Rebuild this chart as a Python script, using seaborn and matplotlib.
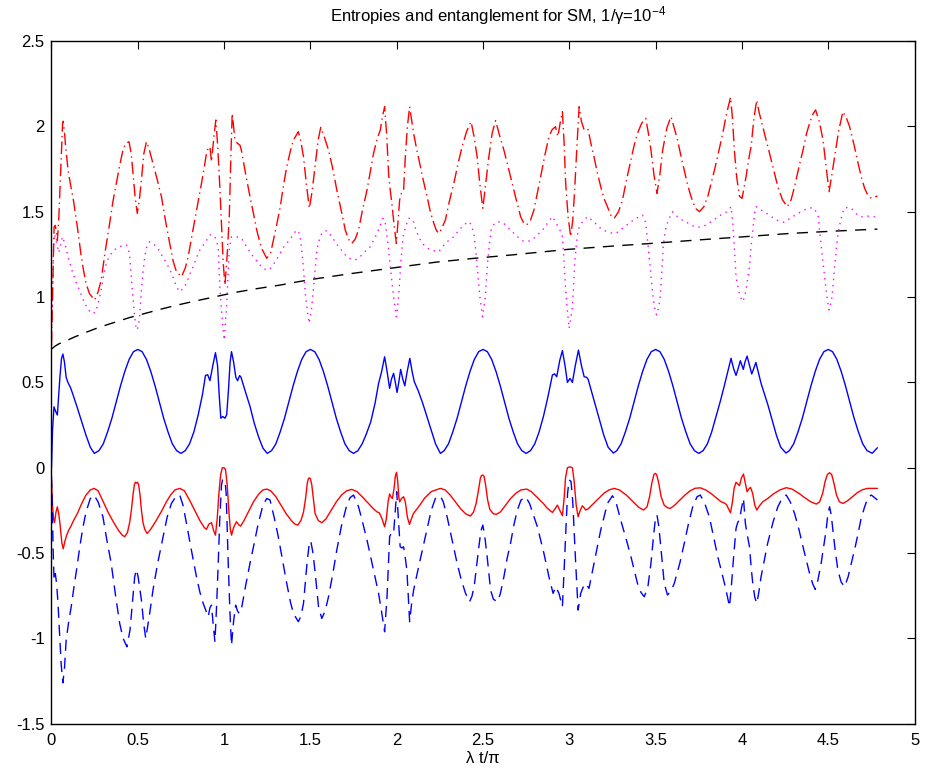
import matplotlib
matplotlib.use("Agg")
import numpy as np
import pandas as pd
import seaborn as sns
import matplotlib.pyplot as plt

# ---------------- data ----------------
# blue solid
bs_x = [0, 0.006, 0.0145, 0.024, 0.034, 0.049, 0.058, 0.066, 0.075, 0.085, 0.095, 0.11, 0.124, 0.15, 0.175, 0.2, 0.225, 0.248,
        0.275, 0.3, 0.325, 0.35, 0.375, 0.4, 0.425, 0.45, 0.475, 0.5, 0.525, 0.55, 0.575, 0.6, 0.625, 0.65, 0.675, 0.7, 0.725, 0.75,
        0.775, 0.8, 0.825, 0.85, 0.875, 0.892, 0.905, 0.918, 0.935, 0.95, 0.962, 0.972, 0.981, 0.993, 1.005, 1.015, 1.025, 1.035, 1.043,
        1.055, 1.068, 1.078, 1.09, 1.098, 1.125, 1.15, 1.175, 1.2, 1.225, 1.25,
        1.275, 1.3, 1.325, 1.35, 1.375, 1.4, 1.425, 1.45, 1.475, 1.5, 1.525, 1.55, 1.575, 1.6, 1.625, 1.65, 1.675, 1.7, 1.725, 1.75,
        1.775, 1.8, 1.825, 1.85, 1.875, 1.895, 1.912, 1.93, 1.945, 1.959, 1.97, 1.982, 1.992, 2.002, 2.012, 2.023, 2.035, 2.047, 2.06,
        2.076, 2.09, 2.102, 2.125, 2.15, 2.175, 2.2, 2.225, 2.253,
        2.275, 2.3, 2.325, 2.35, 2.375, 2.4, 2.425, 2.45, 2.475, 2.5, 2.525, 2.55, 2.575, 2.6, 2.625, 2.65, 2.675, 2.7, 2.725, 2.75,
        2.775, 2.8, 2.825, 2.85, 2.875, 2.902, 2.915, 2.927, 2.945, 2.96, 2.975, 2.989, 3.004, 3.018, 3.035, 3.053, 3.07, 3.086, 3.1,
        3.109, 3.125, 3.15, 3.175, 3.2, 3.225, 3.255,
        3.275, 3.3, 3.325, 3.35, 3.375, 3.4, 3.425, 3.45, 3.475, 3.5, 3.525, 3.55, 3.575, 3.6, 3.625, 3.65, 3.675, 3.7, 3.725, 3.75,
        3.775, 3.8, 3.825, 3.85, 3.875, 3.899, 3.915, 3.937, 3.952, 3.966, 3.978, 3.991, 4.0, 4.008, 4.018, 4.03, 4.044, 4.057, 4.068,
        4.081, 4.095, 4.111, 4.125, 4.15, 4.175, 4.2, 4.225, 4.255,
        4.275, 4.3, 4.325, 4.35, 4.375, 4.4, 4.425, 4.45, 4.475, 4.5, 4.525, 4.55, 4.575, 4.6, 4.625, 4.65, 4.675, 4.7, 4.725, 4.755, 4.785]
bs_y = [0, 0.22, 0.357, 0.33, 0.309, 0.533, 0.64, 0.666, 0.62, 0.53, 0.50, 0.47, 0.43, 0.35, 0.27, 0.19, 0.12, 0.084,
        0.10, 0.14, 0.21, 0.29, 0.385, 0.48, 0.565, 0.635, 0.68, 0.693, 0.68, 0.635, 0.565, 0.48, 0.385, 0.29, 0.21, 0.14, 0.10, 0.084,
        0.10, 0.14, 0.21, 0.31, 0.43, 0.54, 0.545, 0.51, 0.60, 0.674, 0.60, 0.42, 0.29, 0.30, 0.29, 0.31, 0.45, 0.62, 0.68,
        0.62, 0.53, 0.51, 0.54, 0.53, 0.44, 0.36, 0.26, 0.18, 0.115, 0.084,
        0.10, 0.14, 0.21, 0.29, 0.385, 0.48, 0.565, 0.635, 0.68, 0.693, 0.68, 0.635, 0.565, 0.48, 0.385, 0.29, 0.21, 0.14, 0.10, 0.084,
        0.10, 0.14, 0.20, 0.27, 0.38, 0.494, 0.56, 0.65, 0.56, 0.465, 0.52, 0.553, 0.50, 0.441, 0.50, 0.576, 0.52, 0.48, 0.56,
        0.641, 0.56, 0.504, 0.45, 0.38, 0.30, 0.22, 0.14, 0.084,
        0.10, 0.14, 0.21, 0.29, 0.385, 0.48, 0.565, 0.635, 0.68, 0.693, 0.68, 0.635, 0.565, 0.48, 0.385, 0.29, 0.21, 0.14, 0.10, 0.084,
        0.10, 0.14, 0.21, 0.30, 0.41, 0.543, 0.55, 0.533, 0.63, 0.686, 0.60, 0.50, 0.523, 0.50, 0.60, 0.689, 0.60, 0.533, 0.53,
        0.518, 0.46, 0.37, 0.28, 0.19, 0.12, 0.086,
        0.10, 0.14, 0.21, 0.29, 0.385, 0.48, 0.565, 0.635, 0.68, 0.693, 0.68, 0.635, 0.565, 0.48, 0.385, 0.29, 0.21, 0.14, 0.10, 0.084,
        0.10, 0.14, 0.21, 0.30, 0.39, 0.484, 0.55, 0.641, 0.58, 0.541, 0.58, 0.627, 0.60, 0.576, 0.62, 0.654, 0.60, 0.549, 0.58,
        0.617, 0.56, 0.494, 0.45, 0.37, 0.28, 0.19, 0.12, 0.086,
        0.10, 0.14, 0.21, 0.29, 0.385, 0.48, 0.565, 0.635, 0.68, 0.693, 0.68, 0.635, 0.565, 0.48, 0.385, 0.29, 0.21, 0.14, 0.10, 0.085, 0.117]

# red solid
rs_x = [0, 0.006, 0.012, 0.018, 0.026, 0.034, 0.042, 0.049, 0.06, 0.068, 0.078, 0.088, 0.1, 0.111, 0.13, 0.15, 0.175, 0.2, 0.225,
        0.247, 0.27, 0.3, 0.33, 0.36, 0.39, 0.41, 0.424, 0.44, 0.453, 0.463, 0.472, 0.48, 0.486, 0.492, 0.498, 0.505, 0.513, 0.521,
        0.53, 0.54, 0.554, 0.575, 0.608, 0.64, 0.666, 0.69, 0.715, 0.743, 0.77, 0.8, 0.83, 0.86, 0.885, 0.898, 0.912, 0.927, 0.94,
        0.95, 0.96, 0.97, 0.98, 0.99, 1.0, 1.008, 1.018, 1.028, 1.036, 1.043, 1.055, 1.072, 1.085, 1.096, 1.115, 1.14, 1.17, 1.2,
        1.225, 1.247, 1.27, 1.3, 1.33, 1.36, 1.39, 1.41, 1.427, 1.445, 1.46, 1.472, 1.482, 1.488, 1.494, 1.5, 1.508, 1.518, 1.527,
        1.546, 1.566, 1.59, 1.62, 1.65, 1.68, 1.71, 1.74, 1.77, 1.8, 1.836, 1.865, 1.885, 1.9, 1.915, 1.93, 1.94, 1.95, 1.959, 1.967,
        1.975, 1.985, 1.992, 1.999, 2.006, 2.012, 2.017, 2.028, 2.04, 2.05, 2.062, 2.074, 2.085, 2.097, 2.127, 2.16, 2.2, 2.253, 2.28,
        2.31, 2.34, 2.37, 2.4, 2.427, 2.445, 2.46, 2.474, 2.485, 2.492, 2.499, 2.506, 2.515, 2.527, 2.54, 2.56, 2.578, 2.602, 2.63,
        2.66, 2.69, 2.72, 2.753, 2.78, 2.82, 2.85, 2.873, 2.902, 2.918, 2.931, 2.945, 2.96, 2.97, 2.978, 2.989, 3.003, 3.018, 3.028,
        3.04, 3.051, 3.063, 3.076, 3.086, 3.095, 3.11, 3.14, 3.17, 3.2, 3.23, 3.26, 3.29, 3.33, 3.37, 3.4, 3.43, 3.45, 3.465, 3.478,
        3.49, 3.498, 3.506, 3.518, 3.532, 3.55, 3.57, 3.585, 3.61, 3.64, 3.67, 3.7, 3.73, 3.76, 3.79, 3.82, 3.85, 3.879, 3.895, 3.91,
        3.922, 3.934, 3.945, 3.955, 3.966, 3.976, 3.986, 3.997, 4.009, 4.02, 4.03, 4.04, 4.05, 4.062, 4.075, 4.086, 4.1, 4.121, 4.15,
        4.18, 4.22, 4.257, 4.29, 4.33, 4.37, 4.4, 4.431, 4.45, 4.468, 4.482, 4.495, 4.508, 4.52, 4.533, 4.548, 4.565, 4.585, 4.61,
        4.64, 4.67, 4.7, 4.729, 4.785]
rs_y = [-0.072, -0.22, -0.30, -0.32, -0.26, -0.229, -0.27, -0.326, -0.44, -0.475, -0.43, -0.395, -0.365, -0.346, -0.305, -0.268,
        -0.21, -0.16, -0.13, -0.121, -0.135, -0.20, -0.265, -0.32, -0.37, -0.395, -0.404, -0.38, -0.32, -0.248, -0.16, -0.10, -0.085,
        -0.09, -0.085, -0.10, -0.16, -0.248, -0.32, -0.36, -0.385, -0.36, -0.307, -0.25, -0.199, -0.16, -0.13, -0.121, -0.135, -0.19,
        -0.25, -0.31, -0.35, -0.361, -0.33, -0.322, -0.37, -0.395, -0.30, -0.15, -0.04, 0.0, 0.0, -0.01, -0.10, -0.26, -0.36, -0.395,
        -0.35, -0.316, -0.335, -0.342, -0.31, -0.26, -0.20, -0.155, -0.13, -0.125, -0.135, -0.17, -0.22, -0.27, -0.31, -0.33, -0.336,
        -0.31, -0.26, -0.18, -0.09, -0.065, -0.059, -0.065, -0.10, -0.19, -0.268, -0.31, -0.322, -0.30, -0.25, -0.20, -0.16, -0.135,
        -0.127, -0.14, -0.17, -0.209, -0.24, -0.258, -0.265, -0.30, -0.346, -0.30, -0.20, -0.154, -0.17, -0.18, -0.12, -0.05, -0.027,
        -0.08, -0.17, -0.20, -0.18, -0.17, -0.20, -0.29, -0.332, -0.30, -0.268, -0.229, -0.18, -0.14, -0.121, -0.13, -0.16, -0.20,
        -0.24, -0.27, -0.283, -0.26, -0.21, -0.13, -0.06, -0.045, -0.043, -0.05, -0.10, -0.19, -0.245, -0.27, -0.273, -0.258, -0.22,
        -0.18, -0.15, -0.13, -0.125, -0.14, -0.18, -0.21, -0.238, -0.262, -0.24, -0.219, -0.25, -0.281, -0.18, -0.06, 0.0, 0.005, 0.0,
        -0.08, -0.22, -0.287, -0.25, -0.223, -0.235, -0.248, -0.24, -0.21, -0.18, -0.15, -0.13, -0.121, -0.13, -0.16, -0.20, -0.23,
        -0.248, -0.23, -0.17, -0.09, -0.04, -0.033, -0.04, -0.09, -0.17, -0.22, -0.235, -0.238, -0.22, -0.19, -0.16, -0.135, -0.12,
        -0.118, -0.13, -0.15, -0.175, -0.199, -0.205, -0.215, -0.24, -0.264, -0.20, -0.12, -0.085, -0.095, -0.105, -0.06, -0.037,
        -0.09, -0.141, -0.125, -0.115, -0.15, -0.22, -0.248, -0.225, -0.199, -0.18, -0.155, -0.13, -0.117, -0.125, -0.15, -0.18,
        -0.20, -0.213, -0.20, -0.15, -0.08, -0.04, -0.029, -0.04, -0.09, -0.16, -0.20, -0.209, -0.195, -0.17, -0.145, -0.128, -0.121,
        -0.121]

# blue dashed
bd_x = [0, 0.005, 0.01, 0.015, 0.022, 0.03, 0.038, 0.047, 0.056, 0.066, 0.075, 0.085, 0.1, 0.115, 0.13, 0.145, 0.163, 0.182, 0.2,
        0.225, 0.246, 0.27, 0.298, 0.32, 0.346, 0.37, 0.395, 0.415, 0.437, 0.455, 0.472, 0.482, 0.492, 0.502, 0.521, 0.535, 0.546,
        0.565, 0.588, 0.615, 0.647, 0.67, 0.695, 0.72, 0.743, 0.762, 0.782, 0.81, 0.84, 0.86, 0.879, 0.908, 0.918, 0.927, 0.937,
        0.947, 0.957, 0.966, 0.975, 0.985, 0.991, 1.005, 1.012, 1.018, 1.024, 1.034, 1.043, 1.055, 1.067, 1.078, 1.088, 1.101, 1.125,
        1.15, 1.175, 1.198, 1.225, 1.247, 1.266, 1.29, 1.314, 1.34, 1.363, 1.385, 1.402, 1.43, 1.445, 1.46, 1.472, 1.482, 1.493,
        1.502, 1.515, 1.528, 1.547, 1.566, 1.585, 1.605, 1.63, 1.653, 1.68, 1.711, 1.73, 1.75, 1.779, 1.8, 1.828, 1.866, 1.895, 1.914,
        1.93, 1.944, 1.959, 1.97, 1.982, 1.992, 2.0, 2.01, 2.02, 2.03, 2.04, 2.05, 2.059, 2.075, 2.086, 2.098, 2.127, 2.166, 2.2,
        2.224, 2.253, 2.27, 2.292, 2.32, 2.35, 2.375, 2.399, 2.422, 2.437, 2.451, 2.476, 2.488, 2.499, 2.51, 2.524, 2.544, 2.56,
        2.582, 2.6, 2.621, 2.64, 2.66, 2.68, 2.699, 2.72, 2.747, 2.77, 2.79, 2.815, 2.853, 2.882, 2.906, 2.921, 2.94, 2.96, 2.97,
        2.98, 2.99, 2.999, 3.01, 3.02, 3.037, 3.051, 3.066, 3.08, 3.095, 3.114, 3.143, 3.182, 3.221, 3.25, 3.27, 3.298, 3.33, 3.357,
        3.395, 3.415, 3.434, 3.455, 3.473, 3.49, 3.5, 3.508, 3.518, 3.53, 3.55, 3.569, 3.59, 3.608, 3.64, 3.666, 3.69, 3.715, 3.74,
        3.759, 3.785, 3.811, 3.835, 3.86, 3.88, 3.899, 3.915, 3.928, 3.94, 3.952, 3.966, 3.976, 3.986, 3.997, 4.009, 4.02, 4.032,
        4.044, 4.055, 4.063, 4.075, 4.086, 4.098, 4.111, 4.13, 4.149, 4.18, 4.208, 4.235, 4.257, 4.28, 4.305, 4.33, 4.354, 4.375,
        4.392, 4.41, 4.425, 4.44, 4.459, 4.475, 4.488, 4.498, 4.508, 4.518, 4.527, 4.54, 4.556, 4.575, 4.595, 4.615, 4.634, 4.655,
        4.673, 4.69, 4.711, 4.73, 4.75, 4.785]
bd_y = [-0.05, -0.25, -0.50, -0.66, -0.62, -0.68, -0.80, -0.98, -1.15, -1.26, -1.18, -1.01, -0.90, -0.81, -0.70, -0.60, -0.47,
        -0.35, -0.26, -0.18, -0.16, -0.20, -0.287, -0.42, -0.56, -0.74, -0.912, -1.0, -1.049, -0.95, -0.756, -0.64, -0.596, -0.64,
        -0.775, -0.92, -1.0, -0.88, -0.717, -0.56, -0.404, -0.29, -0.209, -0.17, -0.16, -0.22, -0.326, -0.48, -0.639, -0.73, -0.795,
        -0.873, -0.82, -0.805, -0.92, -1.02, -0.80, -0.56, -0.30, -0.10, -0.072, -0.072, -0.15, -0.35, -0.56, -0.85, -1.04, -0.90,
        -0.805, -0.84, -0.854, -0.824, -0.69, -0.56, -0.44, -0.326, -0.22, -0.18, -0.189, -0.29, -0.404, -0.55, -0.678, -0.79,
        -0.854, -0.902, -0.87, -0.795, -0.66, -0.541, -0.45, -0.428, -0.50, -0.619, -0.814, -0.883, -0.84, -0.756, -0.62, -0.482,
        -0.34, -0.219, -0.175, -0.16, -0.229, -0.31, -0.424, -0.60, -0.736, -0.854, -0.961, -0.756, -0.404, -0.38, -0.385, -0.25,
        -0.141, -0.30, -0.463, -0.47, -0.463, -0.53, -0.60, -0.902, -0.80, -0.717, -0.58, -0.404, -0.25, -0.18, -0.166, -0.20,
        -0.287, -0.42, -0.56, -0.66, -0.736, -0.785, -0.75, -0.678, -0.463, -0.37, -0.336, -0.40, -0.521, -0.717, -0.77, -0.785,
        -0.74, -0.639, -0.53, -0.44, -0.33, -0.248, -0.19, -0.17, -0.21, -0.27, -0.346, -0.502, -0.639, -0.736, -0.697, -0.736,
        -0.814, -0.60, -0.365, -0.15, -0.072, -0.08, -0.20, -0.56, -0.834, -0.736, -0.70, -0.678, -0.707, -0.56, -0.365, -0.209,
        -0.164, -0.20, -0.307, -0.42, -0.521, -0.678, -0.73, -0.756, -0.70, -0.56, -0.38, -0.29, -0.277, -0.34, -0.463, -0.678,
        -0.746, -0.72, -0.678, -0.56, -0.443, -0.33, -0.229, -0.17, -0.16, -0.21, -0.287, -0.40, -0.521, -0.60, -0.678, -0.75,
        -0.814, -0.68, -0.521, -0.355, -0.32, -0.307, -0.24, -0.18, -0.326, -0.40, -0.463, -0.60, -0.678, -0.76, -0.795, -0.73,
        -0.639, -0.54, -0.443, -0.32, -0.229, -0.175, -0.16, -0.20, -0.268, -0.36, -0.463, -0.55, -0.619, -0.68, -0.713, -0.66,
        -0.56, -0.45, -0.365, -0.27, -0.229, -0.28, -0.365, -0.48, -0.60, -0.67, -0.697, -0.64, -0.56, -0.47, -0.385, -0.30, -0.229,
        -0.175, -0.16, -0.189]

# red dash-dot
rd_x = [0, 0.005, 0.01, 0.015, 0.022, 0.028, 0.034, 0.042, 0.05, 0.057, 0.064, 0.068, 0.075, 0.082, 0.096, 0.11, 0.127, 0.15, 0.17,
        0.185, 0.2, 0.22, 0.25, 0.27, 0.288, 0.31, 0.337, 0.356, 0.376, 0.395, 0.414, 0.43, 0.449, 0.462, 0.472, 0.485, 0.497, 0.509,
        0.521, 0.535, 0.55, 0.565, 0.588, 0.612, 0.637, 0.66, 0.685, 0.705, 0.724, 0.753, 0.775, 0.792, 0.81, 0.83, 0.85, 0.869,
        0.885, 0.898, 0.909, 0.918, 0.927, 0.94, 0.952, 0.962, 0.975, 0.985, 0.995, 1.005, 1.018, 1.03, 1.04, 1.047, 1.055, 1.063,
        1.078, 1.092, 1.1, 1.125, 1.15, 1.17, 1.189, 1.215, 1.247, 1.27, 1.3, 1.324, 1.345, 1.363, 1.385, 1.402, 1.43, 1.445, 1.46,
        1.478, 1.494, 1.51, 1.527, 1.545, 1.56, 1.58, 1.605, 1.63, 1.653, 1.68, 1.702, 1.72, 1.74, 1.76, 1.779, 1.8, 1.828, 1.848,
        1.866, 1.885, 1.905, 1.918, 1.93, 1.942, 1.953, 1.962, 1.972, 1.985, 1.998, 2.008, 2.017, 2.03, 2.04, 2.05, 2.062, 2.075,
        2.086, 2.098, 2.115, 2.137, 2.155, 2.176, 2.195, 2.215, 2.23, 2.244, 2.26, 2.282, 2.305, 2.331, 2.355, 2.379, 2.405, 2.431,
        2.448, 2.466, 2.482, 2.499, 2.515, 2.534, 2.553, 2.573, 2.595, 2.621, 2.65, 2.688, 2.718, 2.735, 2.753, 2.775, 2.795, 2.815,
        2.834, 2.858, 2.882, 2.9, 2.92, 2.934, 2.947, 2.96, 2.97, 2.979, 2.993, 3.008, 3.02, 3.031, 3.045, 3.057, 3.07, 3.086, 3.098,
        3.109, 3.125, 3.143, 3.162, 3.182, 3.2, 3.221, 3.24, 3.26, 3.285, 3.308, 3.33, 3.357, 3.376, 3.395, 3.42, 3.443, 3.458,
        3.473, 3.49, 3.508, 3.525, 3.541, 3.565, 3.589, 3.608, 3.627, 3.646, 3.666, 3.685, 3.705, 3.73, 3.754, 3.78, 3.802, 3.82,
        3.841, 3.865, 3.889, 3.91, 3.934, 3.945, 3.957, 3.97, 3.986, 4.001, 4.012, 4.024, 4.038, 4.053, 4.07, 4.086, 4.1, 4.121,
        4.14, 4.16, 4.185, 4.208, 4.235, 4.263, 4.285, 4.305, 4.33, 4.354, 4.375, 4.392, 4.41, 4.427, 4.448, 4.47, 4.488, 4.505,
        4.52, 4.537, 4.56, 4.585, 4.605, 4.624, 4.65, 4.673, 4.695, 4.711, 4.73, 4.75, 4.785]
rd_y = [0.72, 0.96, 1.2, 1.41, 1.42, 1.38, 1.33, 1.45, 1.65, 1.84, 2.01, 2.03, 1.97, 1.88, 1.744, 1.66, 1.568, 1.41, 1.256, 1.16,
        1.08, 1.02, 0.982, 1.03, 1.10, 1.26, 1.432, 1.56, 1.666, 1.77, 1.861, 1.90, 1.91, 1.84, 1.725, 1.58, 1.49, 1.57, 1.686, 1.84,
        1.91, 1.87, 1.783, 1.69, 1.588, 1.45, 1.314, 1.21, 1.148, 1.119, 1.17, 1.236, 1.34, 1.451, 1.56, 1.666, 1.76, 1.842, 1.875,
        1.88, 1.793, 1.93, 2.037, 1.90, 1.65, 1.432, 1.20, 1.07, 1.25, 1.47, 1.85, 2.076, 2.0, 1.92, 1.90, 1.89, 1.86, 1.72, 1.588,
        1.49, 1.393, 1.29, 1.227, 1.26, 1.40, 1.52, 1.66, 1.764, 1.86, 1.92, 1.969, 1.91, 1.822, 1.65, 1.52, 1.62, 1.764, 1.92, 1.994,
        1.94, 1.861, 1.75, 1.627, 1.50, 1.393, 1.34, 1.314, 1.34, 1.393, 1.50, 1.627, 1.74, 1.842, 1.92, 1.979, 2.06, 2.115, 1.95,
        1.725, 1.63, 1.549, 1.42, 1.314, 1.45, 1.568, 1.62, 1.627, 1.822, 2.0, 2.115, 2.04, 1.959, 1.87, 1.764, 1.68, 1.588, 1.50,
        1.432, 1.39, 1.373, 1.40, 1.451, 1.56, 1.666, 1.78, 1.881, 1.97, 2.027, 1.94, 1.822, 1.66, 1.52, 1.66, 1.822, 1.96, 2.033,
        1.95, 1.861, 1.744, 1.588, 1.471, 1.435, 1.422, 1.45, 1.51, 1.61, 1.705, 1.83, 1.939, 1.98, 1.998, 1.94, 2.02, 2.086, 1.90,
        1.666, 1.47, 1.354, 1.45, 1.627, 1.90, 2.115, 2.03, 1.979, 1.975, 1.982, 1.90, 1.822, 1.73, 1.647, 1.58, 1.529, 1.48, 1.461,
        1.50, 1.568, 1.68, 1.803, 1.89, 1.959, 2.02, 2.047, 1.96, 1.861, 1.72, 1.607, 1.72, 1.861, 1.99, 2.057, 1.99, 1.92, 1.83,
        1.744, 1.66, 1.588, 1.52, 1.50, 1.53, 1.588, 1.66, 1.744, 1.85, 1.959, 2.07, 2.17, 2.05, 1.85, 1.70, 1.59, 1.578, 1.64,
        1.705, 1.80, 1.881, 2.05, 2.154, 2.08, 1.998, 1.92, 1.842, 1.74, 1.647, 1.57, 1.529, 1.57, 1.647, 1.76, 1.861, 1.96, 2.018,
        2.07, 2.096, 2.03, 1.92, 1.76, 1.617, 1.71, 1.822, 1.97, 2.086, 2.05, 1.998, 1.89, 1.783, 1.69, 1.637, 1.595, 1.578, 1.592]

# magenta dotted
md_x = [0, 0.006, 0.012, 0.018, 0.026, 0.034, 0.042, 0.052, 0.063, 0.075, 0.088, 0.1, 0.124, 0.145, 0.163, 0.185, 0.205, 0.23,
        0.255, 0.27, 0.288, 0.303, 0.317, 0.335, 0.356, 0.375, 0.395, 0.415, 0.434, 0.446, 0.453, 0.461, 0.468, 0.475, 0.482, 0.489,
        0.496, 0.503, 0.511, 0.516, 0.521, 0.53, 0.54, 0.553, 0.569, 0.592, 0.617, 0.636, 0.656, 0.676, 0.695, 0.71, 0.724, 0.743,
        0.762, 0.782, 0.8, 0.821, 0.84, 0.859, 0.875, 0.888, 0.903, 0.918, 0.933, 0.947, 0.958, 0.966, 0.971, 0.976, 0.984, 0.991,
        1.001, 1.008, 1.014, 1.022, 1.03, 1.043, 1.058, 1.072, 1.087, 1.101, 1.115, 1.13, 1.15, 1.169, 1.19, 1.208, 1.23, 1.256,
        1.27, 1.285, 1.304, 1.324, 1.343, 1.363, 1.378, 1.392, 1.407, 1.421, 1.432, 1.44, 1.447, 1.454, 1.46, 1.466, 1.472, 1.479,
        1.486, 1.493, 1.5, 1.508, 1.515, 1.522, 1.53, 1.537, 1.55, 1.566, 1.58, 1.595, 1.61, 1.624, 1.643, 1.663, 1.687, 1.711,
        1.735, 1.76, 1.78, 1.798, 1.82, 1.847, 1.865, 1.886, 1.905, 1.921, 1.933, 1.947, 1.955, 1.963, 1.972, 1.982, 1.99, 1.998,
        2.005, 2.011, 2.018, 2.025, 2.032, 2.04, 2.055, 2.069, 2.082, 2.094, 2.11, 2.127, 2.145, 2.166, 2.185, 2.205, 2.225, 2.244,
        2.262, 2.282, 2.305, 2.331, 2.355, 2.379, 2.4, 2.423, 2.435, 2.447, 2.457, 2.466, 2.474, 2.482, 2.49, 2.497, 2.505, 2.514,
        2.52, 2.528, 2.537, 2.547, 2.565, 2.582, 2.6, 2.621, 2.64, 2.66, 2.688, 2.71, 2.727, 2.75, 2.776, 2.795, 2.815, 2.835, 2.853,
        2.878, 2.902, 2.92, 2.94, 2.952, 2.96, 2.965, 2.969, 2.974, 2.979, 2.988, 2.999, 3.008, 3.018, 3.025, 3.031, 3.041, 3.051,
        3.063, 3.076, 3.092, 3.109, 3.125, 3.143, 3.162, 3.182, 3.2, 3.221, 3.245, 3.27, 3.29, 3.308, 3.327, 3.347, 3.366, 3.386,
        3.405, 3.424, 3.434, 3.443, 3.45, 3.457, 3.465, 3.473, 3.48, 3.488, 3.496, 3.505, 3.515, 3.525, 3.53, 3.534, 3.54, 3.544,
        3.552, 3.56, 3.578, 3.598, 3.617, 3.637, 3.656, 3.676, 3.7, 3.724, 3.748, 3.773, 3.797, 3.821, 3.845, 3.87, 3.892, 3.914,
        3.926, 3.937, 3.947, 3.957, 3.966, 3.98, 3.992, 4.005, 4.015, 4.024, 4.034, 4.044, 4.05, 4.057, 4.065, 4.073, 4.083, 4.097,
        4.111, 4.13, 4.15, 4.172, 4.193, 4.218, 4.243, 4.27, 4.295, 4.32, 4.344, 4.362, 4.379, 4.4, 4.417, 4.43, 4.441, 4.45, 4.46,
        4.47, 4.479, 4.487, 4.495, 4.505, 4.514, 4.522, 4.53, 4.537, 4.547, 4.557, 4.572, 4.591, 4.612, 4.634, 4.655, 4.676, 4.698,
        4.72, 4.745, 4.77]
md_y = [0.72, 1.0, 1.30, 1.37, 1.33, 1.30, 1.26, 1.30, 1.353, 1.32, 1.27, 1.22, 1.139, 1.08, 1.04, 0.98, 0.94, 0.904, 0.91, 0.96,
        1.041, 1.13, 1.197, 1.24, 1.266, 1.285, 1.295, 1.30, 1.305, 1.28, 1.236, 1.14, 1.041, 0.96, 0.885, 0.83, 0.807, 0.83, 0.885,
        0.96, 1.041, 1.14, 1.236, 1.30, 1.324, 1.31, 1.285, 1.25, 1.217, 1.18, 1.139, 1.10, 1.06, 1.031, 1.05, 1.08, 1.13, 1.178,
        1.23, 1.275, 1.30, 1.314, 1.34, 1.363, 1.365, 1.353, 1.32, 1.295, 1.17, 1.041, 0.94, 0.846, 0.748, 0.85, 0.943, 1.11, 1.275,
        1.353, 1.355, 1.353, 1.35, 1.344, 1.32, 1.295, 1.265, 1.236, 1.21, 1.188, 1.165, 1.158, 1.17, 1.19, 1.22, 1.256, 1.29,
        1.314, 1.335, 1.353, 1.375, 1.393, 1.38, 1.353, 1.30, 1.236, 1.16, 1.08, 1.01, 0.943, 0.89, 0.846, 0.89, 0.943, 1.02, 1.099,
        1.19, 1.275, 1.33, 1.373, 1.385, 1.389, 1.37, 1.353, 1.325, 1.295, 1.265, 1.236, 1.222, 1.217, 1.23, 1.246, 1.27, 1.295,
        1.33, 1.373, 1.42, 1.461, 1.44, 1.334, 1.26, 1.178, 1.09, 1.002, 0.94, 0.885, 0.94, 1.002, 1.11, 1.217, 1.30, 1.373, 1.42,
        1.461, 1.46, 1.451, 1.40, 1.353, 1.32, 1.295, 1.283, 1.275, 1.268, 1.266, 1.29, 1.314, 1.335, 1.353, 1.385, 1.412, 1.43,
        1.441, 1.41, 1.373, 1.28, 1.178, 1.09, 1.002, 0.94, 0.885, 0.94, 1.002, 1.11, 1.217, 1.31, 1.393, 1.43, 1.441, 1.44, 1.432,
        1.41, 1.393, 1.363, 1.345, 1.33, 1.325, 1.33, 1.345, 1.363, 1.385, 1.402, 1.44, 1.471, 1.44, 1.402, 1.38, 1.353, 1.28,
        1.217, 1.13, 1.041, 0.93, 0.816, 0.87, 0.943, 1.07, 1.197, 1.31, 1.393, 1.42, 1.441, 1.46, 1.471, 1.455, 1.441, 1.42, 1.402,
        1.39, 1.383, 1.375, 1.373, 1.388, 1.402, 1.418, 1.432, 1.447, 1.461, 1.47, 1.48, 1.46, 1.432, 1.36, 1.295, 1.21, 1.119, 1.05,
        0.982, 0.93, 0.895, 0.93, 0.982, 1.05, 1.119, 1.21, 1.295, 1.36, 1.412, 1.46, 1.50, 1.48, 1.461, 1.45, 1.441, 1.425, 1.412,
        1.41, 1.412, 1.425, 1.441, 1.458, 1.475, 1.49, 1.50, 1.515, 1.529, 1.432, 1.275, 1.119, 1.041, 1.0, 0.973, 1.0, 1.041, 1.11,
        1.178, 1.26, 1.334, 1.41, 1.49, 1.529, 1.52, 1.51, 1.498, 1.486, 1.47, 1.455, 1.445, 1.438, 1.455, 1.471, 1.487, 1.50, 1.51,
        1.52, 1.522, 1.52, 1.50, 1.48, 1.39, 1.295, 1.2, 1.119, 1.05, 0.982, 0.924, 0.96, 1.002, 1.09, 1.178, 1.28, 1.373, 1.45,
        1.52, 1.525, 1.52, 1.495, 1.475, 1.47, 1.475, 1.472, 1.471]

# black dashed
kd_x = [0, 0.02, 0.045, 0.073, 0.131, 0.192, 0.256, 0.317, 0.385, 0.453, 0.516, 0.579, 0.642, 0.705, 0.772, 0.84, 0.908, 0.976,
        1.08, 1.189, 1.266, 1.324, 1.42, 1.518, 1.74, 1.96, 2.1, 2.233, 2.45, 2.66, 2.82, 2.989, 3.23, 3.473, 3.74, 3.995, 4.285,
        4.53, 4.785]
kd_y = [0.695, 0.712, 0.727, 0.738, 0.765, 0.79, 0.815, 0.836, 0.858, 0.88, 0.897, 0.914, 0.931, 0.947, 0.963, 0.978, 0.993,
        1.008, 1.03, 1.049, 1.061, 1.07, 1.088, 1.105, 1.138, 1.168, 1.187, 1.205, 1.227, 1.246, 1.262, 1.279, 1.297, 1.314, 1.334,
        1.352, 1.373, 1.386, 1.398]

x_ticks = [0, 0.5, 1, 1.5, 2, 2.5, 3, 3.5, 4, 4.5, 5]
x_tick_labels = ["0", "0.5", "1", "1.5", "2", "2.5", "3", "3.5", "4", "4.5", "5"]
y_ticks = [-1.5, -1, -0.5, 0, 0.5, 1, 1.5, 2, 2.5]
y_tick_labels = ["-1.5", "-1", "-0.5", "0", "0.5", "1", "1.5", "2", "2.5"]

# ---------------- style ----------------
sns.set_theme(style="white")
plt.rcParams["font.family"] = ["Liberation Sans", "DejaVu Sans"]
plt.rcParams["mathtext.fontset"] = "custom"
plt.rcParams["mathtext.rm"] = "Liberation Sans"
plt.rcParams["mathtext.it"] = "Liberation Sans:italic"
plt.rcParams["axes.unicode_minus"] = False

fig = plt.figure(figsize=(9.26, 7.75), dpi=100)
ax = fig.add_axes([0.0556, 0.0661, 0.9320, 0.8810])

series = [
    (kd_x, kd_y, "black", (8, 6)),
    (md_x, md_y, "#ff00ff", (1, 3.5)),
    (rd_x, rd_y, "red", (9, 3, 1, 3)),
    (bs_x, bs_y, "blue", None),
    (rs_x, rs_y, "red", None),
    (bd_x, bd_y, "blue", (8, 5)),
]
for xs, ys, col, dash in series:
    df = pd.DataFrame({"x": xs, "y": ys})
    sns.lineplot(data=df, x="x", y="y", ax=ax, color=col, lw=1.0,
                 estimator=None, sort=False, legend=False)
    line = ax.lines[-1]
    if dash is not None:
        line.set_dashes(dash)

ax.set_xlim(0, 5)
ax.set_ylim(-1.5, 2.5)
ax.set_xticks(x_ticks)
ax.set_xticklabels(x_tick_labels)
ax.set_yticks(y_ticks)
ax.set_yticklabels(y_tick_labels)
ax.tick_params(direction="in", top=True, right=True, length=6, width=0.8,
               color="black", labelsize=12, labelcolor="black", pad=5)
ax.tick_params(axis="x", pad=7)
for sp in ax.spines.values():
    sp.set_color("black")
    sp.set_linewidth(1.0)
ax.set_xlabel("λ t/π", fontsize=12, color="black", labelpad=2)
ax.set_ylabel("")
ax.set_title("Entropies and entanglement for SM, 1/γ=10$^{-4}$", fontsize=12, color="black", pad=14, x=0.518)

fig.savefig("out.png", dpi=100)
